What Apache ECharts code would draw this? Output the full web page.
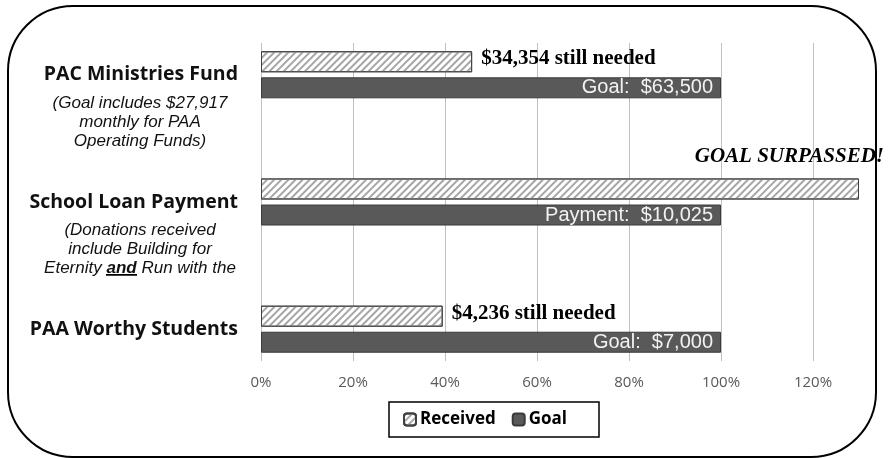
<!DOCTYPE html>
<html>
<head>
<meta charset="utf-8">
<script src="https://cdn.jsdelivr.net/npm/echarts@6/dist/echarts.min.js"></script>
<style>
html,body{margin:0;padding:0;background:#fff;}
#chart{width:888px;height:458px;}
</style>
</head>
<body>
<div id="chart"></div>
<script>
// ---- data ----
const categories = ['PAC Ministries Fund', ' ', 'School Loan Payment', '  ', 'PAA Worthy Students'];
const receivedPct = [0.459, null, 1.30, null, 0.395];
const goalPct = [1, null, 1, null, 1];
const receivedLabels = ['$34,354 still needed', '', 'GOAL SURPASSED!', '', '$4,236 still needed'];
const goalLabels = ['Goal:  $63,500', '', 'Payment:  $10,025', '', 'Goal:  $7,000'];
const subtitleFor = ['PAC Ministries Fund', 'School Loan Payment'];
const subtitleText = [
  '(Goal includes $27,917\nmonthly for PAA\nOperating Funds)',
  '(Donations received\ninclude Building for\nEternity {u|and} Run with the'
];
const xMin = 0, xMax = 1.3, xInterval = 0.2;
const surpassedIndex = 2;

// underline background for rich text
const ul = document.createElement('canvas');
ul.width = 4; ul.height = 38;
(function(){ const c = ul.getContext('2d'); c.fillStyle = '#000'; c.fillRect(0, 33, 4, 3); })();

const chart = echarts.init(document.getElementById('chart'), null, {renderer: 'canvas'});

const receivedData = receivedPct.map((v, i) => {
  if (v == null) return '-';
  const item = {value: v, label: {formatter: receivedLabels[i]}};
  if (i === surpassedIndex) {
    item.label = {
      formatter: receivedLabels[i],
      position: 'right', align: 'right', distance: 0, offset: [25, -32],
      fontStyle: 'italic'
    };
  }
  return item;
});
const goalData = goalPct.map((v, i) => v == null ? '-' : {value: v, label: {formatter: goalLabels[i]}});

const option = {
  animation: false,
  backgroundColor: '#fff',
  grid: {left: 261, right: 29, top: 43, bottom: 97, containLabel: false},
  xAxis: {
    type: 'value', min: xMin, max: xMax, interval: xInterval,
    axisLine: {show: false}, axisTick: {show: false},
    splitLine: {show: true, showMaxLine: false, lineStyle: {color: '#bfbfbf', width: 1}},
    axisLabel: {
      showMaxLabel: false, margin: 14,
      color: '#595959', fontFamily: 'Open Sans', fontSize: 15,
      formatter: v => Math.round(v * 100) + '%'
    }
  },
  yAxis: {
    type: 'category', inverse: true, data: categories,
    axisLine: {show: false}, axisTick: {show: false},
    axisLabel: {margin: 23, color: '#111', fontFamily: 'Open Sans', fontWeight: 'bold', fontSize: 19.5,
      padding: [4, 0, 0, 0]}
  },
  legend: {
    data: ['Received', 'Goal'],
    left: 389, top: 402,
    padding: [9, 32, 9, 14],
    itemWidth: 12, itemHeight: 12, itemGap: 16,
    borderColor: '#000', borderWidth: 1.5, backgroundColor: '#fff',
    textStyle: {color: '#000', fontFamily: 'Open Sans', fontWeight: 'bold', fontSize: 17, padding: [0, 0, 0, -1]}
  },
  series: [
    {
      name: 'Received', type: 'bar', data: receivedData,
      barWidth: 21, barGap: '24%',
      itemStyle: {
        color: '#fff', borderColor: '#404040', borderWidth: 1,
        decal: {symbol: 'rect', symbolSize: 1, dashArrayX: [1, 0], dashArrayY: [1.2, 2.3], rotation: -Math.PI / 4, color: '#a6a6a6'}
      },
      label: {
        show: true, position: 'right', distance: 9, offset: [0, -3],
        color: '#000', fontFamily: 'Liberation Serif', fontWeight: 'bold', fontSize: 21
      }
    },
    {
      name: 'Goal', type: 'bar', data: goalData,
      barWidth: 21,
      itemStyle: {color: '#595959', borderColor: '#3a3a3a', borderWidth: 1},
      label: {
        show: true, position: 'insideRight', distance: 8,
        color: '#f2f2f2', fontFamily: 'Liberation Sans', fontSize: 20
      }
    }
  ]
};
chart.setOption(option);

// subtitles placed relative to their category positions
const graphics = [{
  type: 'rect', silent: true, z: -1,
  shape: {x: 8, y: 6, width: 868, height: 451, r: 65},
  style: {fill: 'none', stroke: '#000', lineWidth: 2}
}];
subtitleFor.forEach((cat, k) => {
  const y = chart.convertToPixel({yAxisIndex: 0}, cat);
  graphics.push({
    type: 'text', silent: true,
    x: 140, y: y + 47,
    style: {
      text: subtitleText[k],
      align: 'center', verticalAlign: 'middle',
      fontFamily: 'Liberation Sans', fontStyle: 'italic', fontSize: 17, lineHeight: 19,
      fill: '#111',
      rich: {
        u: {fontFamily: 'Liberation Sans', fontStyle: 'italic', fontWeight: 'bold', fontSize: 17, lineHeight: 19,
            fill: '#111', backgroundColor: {image: ul}}
      }
    }
  });
});
chart.setOption({graphic: graphics});
</script>
</body>
</html>
